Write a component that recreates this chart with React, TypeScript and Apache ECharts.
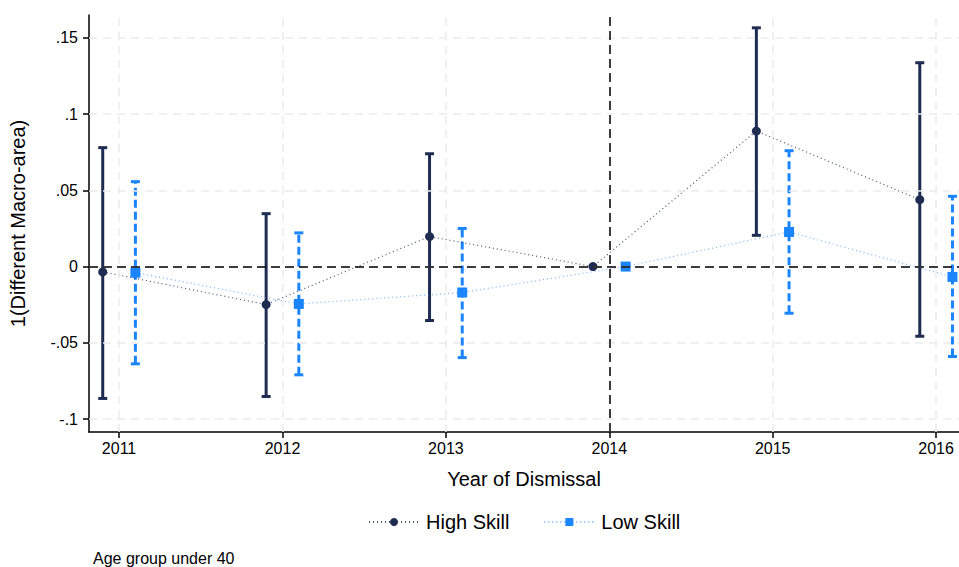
import React, { useEffect, useRef } from "react";
import * as echarts from "echarts";

const years = [2011, 2012, 2013, 2014, 2015, 2016];
const highEst = [-0.0035, -0.0249, 0.0197, 0, 0.0889, 0.0439];
const highLo = [-0.0865, -0.0852, -0.0354, null, 0.0205, -0.0457];
const highHi = [0.078, 0.0347, 0.074, null, 0.1566, 0.1337];
const lowEst = [-0.004, -0.0245, -0.017, 0, 0.0227, -0.0068];
const lowLo = [-0.0638, -0.071, -0.0597, null, -0.0306, -0.059];
const lowHi = [0.0557, 0.0221, 0.025, null, 0.076, 0.0461];
const yTicks = [-0.1, -0.05, 0, 0.05, 0.1, 0.15];
const yTickLabels = ["-.1", "-.05", "0", ".05", ".1", ".15"];
const refYear = 2014;

const NAVY = "#1e2c52";
const BLUE = "#1a85ff";
const FONT = "Liberation Sans, Arial, Helvetica, sans-serif";

export default function App() {
  const ref = useRef<HTMLDivElement>(null);
  useEffect(() => {
    const chart = echarts.init(ref.current!, null, { renderer: "svg" });
    const off = 0.1;
    const hx = years.map((y) => y - off);
    const lx = years.map((y) => y + off);

    const ciData = (xs: number[], lo: (number | null)[], hi: (number | null)[]) =>
      xs
        .map((x, i) => (lo[i] == null ? null : [x, lo[i], hi[i]]))
        .filter((d) => d != null);

    const makeCI = (name: string, color: string, dashed: boolean, data: any[]) => ({
      type: "custom",
      name,
      z: 3,
      silent: true,
      data,
      encode: { x: 0, y: [1, 2] },
      renderItem: (params: any, api: any) => {
        const x = api.value(0);
        const p1 = api.coord([x, api.value(1)]);
        const p2 = api.coord([x, api.value(2)]);
        const hw = 4.5;
        const style = {
          stroke: color,
          lineWidth: 3,
          lineDash: dashed ? [8, 4] : null,
        };
        const capStyle = { stroke: color, lineWidth: 3 };
        return {
          type: "group",
          children: [
            { type: "line", shape: { x1: p1[0], y1: p1[1], x2: p2[0], y2: p2[1] }, style },
            { type: "line", shape: { x1: p1[0] - hw, y1: p1[1], x2: p1[0] + hw, y2: p1[1] }, style: capStyle },
            { type: "line", shape: { x1: p2[0] - hw, y1: p2[1], x2: p2[0] + hw, y2: p2[1] }, style: capStyle },
          ],
        };
      },
    });

    const gridLineStyle = { color: "#ececec", type: [8, 6] as any, width: 1.5 };

    chart.setOption({
      animation: false,
      grid: { left: 89, right: 0, top: 15, bottom: 135, containLabel: false },
      xAxis: {
        type: "value",
        min: 2010.816,
        max: 2016.14,
        name: "Year of Dismissal",
        nameLocation: "middle",
        nameGap: 37,
        nameTextStyle: { fontSize: 20, color: "#000", fontFamily: FONT },
        axisLine: { show: true, onZero: false, lineStyle: { color: "#000", width: 1.5 } },
        axisTick: { show: true, customValues: years, length: 6, lineStyle: { color: "#000", width: 1.5 } },
        axisLabel: {
          customValues: years,
          fontSize: 16,
          color: "#000",
          fontFamily: FONT,
          margin: 8,
          formatter: (v: number) => String(Math.round(v)),
        },
        splitLine: { show: false },
      },
      yAxis: {
        type: "value",
        min: -0.1085,
        max: 0.165,
        name: "1(Different Macro-area)",
        nameLocation: "middle",
        nameGap: 61,
        nameTextStyle: { fontSize: 20, color: "#000", fontFamily: FONT },
        axisLine: { show: true, onZero: false, lineStyle: { color: "#000", width: 1.5 } },
        axisTick: { show: true, customValues: yTicks, length: 6, lineStyle: { color: "#000", width: 1.5 } },
        axisLabel: {
          customValues: yTicks,
          fontSize: 16,
          color: "#000",
          fontFamily: FONT,
          margin: 11,
          formatter: (v: number) => {
            const i = yTicks.findIndex((t) => Math.abs(t - v) < 1e-6);
            return i >= 0 ? yTickLabels[i] : "";
          },
        },
        splitLine: { show: false },
      },
      legend: {
        left: 363,
        top: 507,
        itemWidth: 50,
        itemHeight: 10,
        itemGap: 34,
        textStyle: { fontSize: 20, color: "#000", fontFamily: FONT, padding: [0, 0, 0, 2] },
        data: ["High Skill", "Low Skill"],
      },
      graphic: [
        {
          type: "text",
          left: 93,
          top: 550,
          style: { text: "Age group under 40", fontSize: 16, fill: "#000", fontFamily: FONT },
        },
      ],
      series: [
        {
          type: "line",
          name: "grid",
          data: [],
          silent: true,
          z: 0,
          markLine: {
            silent: true,
            symbol: "none",
            label: { show: false },
            lineStyle: gridLineStyle,
            data: [
              ...years.map((y) => ({ xAxis: y })),
              ...yTicks.map((v) => ({ yAxis: v })),
            ],
          },
        },
        {
          type: "line",
          name: "ref",
          data: [],
          silent: true,
          z: 1,
          markLine: {
            silent: true,
            symbol: "none",
            label: { show: false },
            lineStyle: { color: "#000", type: [9, 5] as any, width: 1.5 },
            data: [{ xAxis: refYear }, { yAxis: 0 }],
          },
        },
        makeCI("High CI", NAVY, false, ciData(hx, highLo, highHi)),
        makeCI("Low CI", BLUE, true, ciData(lx, lowLo, lowHi)),
        {
          type: "line",
          name: "High Skill",
          z: 4,
          data: hx.map((x, i) => [x, highEst[i]]),
          symbol: "circle",
          symbolSize: 9,
          itemStyle: { color: NAVY },
          lineStyle: { color: NAVY, width: 1.2, type: [1, 3] as any, opacity: 0.8 },
        },
        {
          type: "line",
          name: "Low Skill",
          z: 4,
          data: lx.map((x, i) => [x, lowEst[i]]),
          symbol: "rect",
          symbolSize: 10,
          itemStyle: { color: BLUE },
          lineStyle: { color: BLUE, width: 1.2, type: [1, 3] as any, opacity: 0.6 },
        },
      ],
    });
    return () => chart.dispose();
  }, []);
  return <div ref={ref} style={{ width: 959, height: 567, position: "absolute", left: 0, top: 0 }} />;
}
